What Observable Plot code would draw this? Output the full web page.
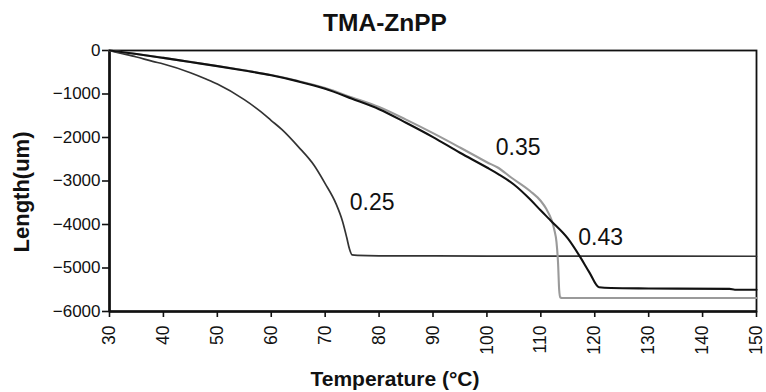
<!DOCTYPE html>
<html>
<head>
<meta charset="utf-8">
<script src="https://cdn.jsdelivr.net/npm/d3@7"></script>
<script src="https://cdn.jsdelivr.net/npm/@observablehq/plot@0.6"></script>
<style>
  html, body { margin: 0; padding: 0; background: #fff; }
</style>
</head>
<body>
<div id="chart"></div>
<script>
// ---- data ----
const title = "TMA-ZnPP";
const xLabel = "Temperature (°C)";
const yLabel = "Length(um)";
const xTicks = [30, 40, 50, 60, 70, 80, 90, 100, 110, 120, 130, 140, 150];
const yTicks = [0, -1000, -2000, -3000, -4000, -5000, -6000];

const seriesNames = ["0.25", "0.35", "0.43"];

const temp025 = [30, 32, 35, 38, 40, 45, 48, 50, 55, 58, 60, 62, 65, 68, 70, 72, 73.2, 74, 74.5, 75, 76, 80, 100, 150];
const len025  = [0, -60, -150, -250, -310, -510, -660, -770, -1130, -1400, -1610, -1820, -2210, -2650, -3060, -3520, -3920, -4300, -4560, -4700, -4710, -4720, -4725, -4730];

const temp035 = [30, 35, 40, 45, 50, 55, 60, 65, 70, 75, 80, 85, 90, 95, 98.4, 100, 102, 104.5, 108, 110, 111, 112, 112.5, 112.9, 113.2, 113.4, 113.6, 114, 130, 150];
const len035  = [0, -80, -170, -262, -355, -455, -565, -700, -865, -1080, -1300, -1590, -1900, -2230, -2460, -2570, -2690, -2920, -3230, -3460, -3640, -3900, -4120, -4400, -4900, -5500, -5680, -5690, -5690, -5690];

const temp043 = [30, 35, 40, 45, 50, 55, 60, 65, 70, 75, 80, 85, 90, 95, 100, 102.1, 105, 108, 110, 111.9, 115, 117.4, 119, 120.8, 123, 130, 145, 146, 150];
const len043  = [0, -80, -170, -265, -360, -460, -570, -710, -880, -1110, -1350, -1660, -1990, -2350, -2690, -2841, -3080, -3420, -3680, -3919, -4320, -4767, -5100, -5443, -5460, -5470, -5480, -5500, -5500];

const labelTemp = [78.7, 105.8, 121.1];
const labelLen  = [-3494, -2226, -4305];

// ---- build tables ----
const toRows = (t, l, s) => t.map((x, i) => ({temp: x, len: l[i], series: s}));
const rows025 = toRows(temp025, len025, "0.25");
const rows035 = toRows(temp035, len035, "0.35");
const rows043 = toRows(temp043, len043, "0.43");
const labels = seriesNames.map((s, i) => ({name: s, temp: labelTemp[i], len: labelLen[i]}));

const FONT = "'Liberation Sans', Arial, Helvetica, sans-serif";

const chart = Plot.plot({
  width: 766,
  height: 392,
  marginLeft: 109,
  marginRight: 10,
  marginTop: 50,
  marginBottom: 81,
  style: {fontFamily: FONT, fontSize: "17.5px", color: "#111", background: "#fff"},
  x: {domain: [30, 150], ticks: xTicks},
  y: {domain: [-6000, 0], ticks: yTicks},
  marks: [
    Plot.frame({stroke: "#111", strokeWidth: 1.8}),
    Plot.axisX({ticks: xTicks, tickRotate: -90, tickSize: 6, tickPadding: 8, label: null, stroke: "#111", strokeWidth: 1.6, fill: "#111", fontSize: 17.5, fontFamily: FONT}),
    Plot.axisY({ticks: yTicks, tickSize: 7, tickPadding: 2, label: null, stroke: "#111", strokeWidth: 1.6, fill: "#111", fontSize: 17, fontFamily: FONT, tickFormat: d => String(d).replace("-", "\u2212")}),
    Plot.ruleX([30], {stroke: "#111", strokeWidth: 2.6}),
    Plot.ruleY([-6000], {stroke: "#111", strokeWidth: 2.6}),
    Plot.line(rows025, {x: "temp", y: "len", stroke: "#333", strokeWidth: 1.7, curve: "monotone-x"}),
    Plot.line(rows035, {x: "temp", y: "len", stroke: "#9a9a9a", strokeWidth: 2.1, curve: "monotone-x"}),
    Plot.line(rows043, {x: "temp", y: "len", stroke: "#111", strokeWidth: 2.1, curve: "monotone-x"}),
    Plot.text(labels, {x: "temp", y: "len", text: "name", fontSize: 23, fill: "#111", fontFamily: FONT}),
    Plot.text([title], {text: d => d, frameAnchor: "top", textAnchor: "middle", lineAnchor: "middle", dx: -48, dy: -27, fontSize: 24.5, fontWeight: "bold", fill: "#111", fontFamily: FONT}),
    Plot.text([xLabel], {text: d => d, frameAnchor: "bottom", textAnchor: "middle", lineAnchor: "middle", dx: -38, dy: 68, fontSize: 21, fontWeight: "bold", fill: "#111", fontFamily: FONT}),
    Plot.text([yLabel], {text: d => d, frameAnchor: "left", textAnchor: "middle", lineAnchor: "middle", dx: -88, dy: 11, rotate: -90, fontSize: 22, fontWeight: "bold", fill: "#111", fontFamily: FONT})
  ]
});
document.getElementById("chart").appendChild(chart);
</script>
</body>
</html>
